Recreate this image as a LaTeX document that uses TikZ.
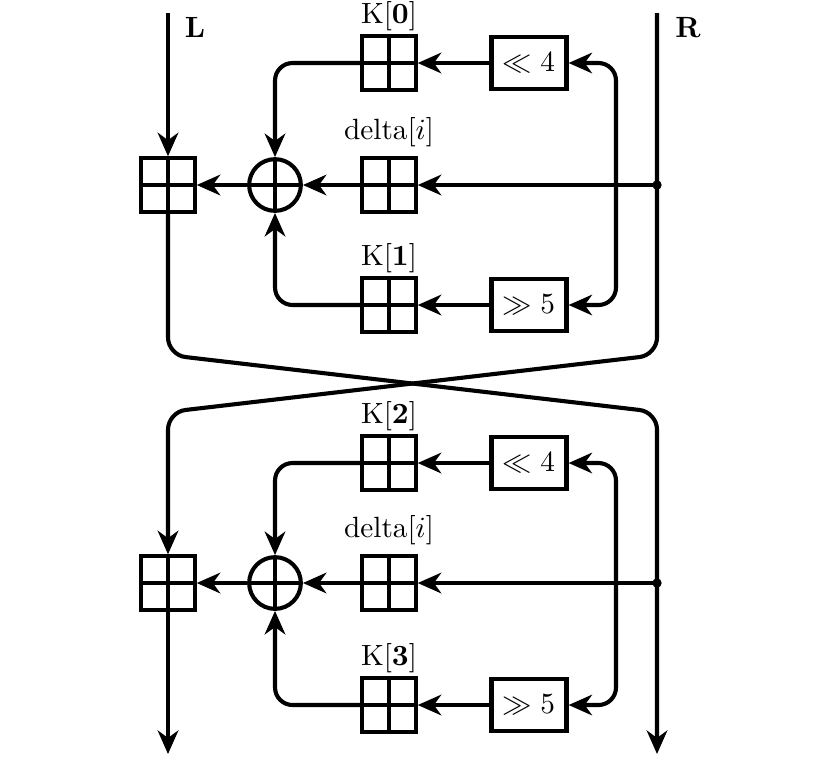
\documentclass[tikz,border=0pt]{standalone}
\usepackage{amsmath,amssymb}
\usetikzlibrary{arrows.meta, positioning}
\tikzset{
    teaadd/.style={draw, minimum size=0.64cm, inner sep=0pt, line width=1.4pt,
        path picture={\draw[line width=1.4pt] (path picture bounding box.north) -- (path picture bounding box.south)
            (path picture bounding box.west) -- (path picture bounding box.east);}},
    teaxor/.style={circle, draw, minimum size=0.62cm, inner sep=0pt, line width=1.4pt,
        path picture={\draw[line width=1.4pt] (path picture bounding box.north) -- (path picture bounding box.south)
            (path picture bounding box.west) -- (path picture bounding box.east);}},
    teashift/.style={draw, minimum width=0.9cm, minimum height=0.62cm, inner sep=0pt, line width=1.4pt},
    teaarrow/.style={-{Stealth[length=8pt, width=7pt, inset=2.5pt]}, line width=1.4pt},
    teacross/.style={line width=1.4pt, rounded corners=6pt},
    teatag/.style={inner sep=0pt}
}

\begin{document}
\begin{tikzpicture}[x=0.012cm, y=-0.012cm]
  \useasboundingbox (0,0) rectangle (840,757);
  \coordinate (Lin)  at (168,13);
  \coordinate (Rin)  at (657,13);
  \coordinate (Lout) at (168,754);
  \coordinate (Rout) at (657,754);
  \node at (195,27) {$\mathbf{L}$};
  \node at (688,27) {$\mathbf{R}$};

  \node[teaadd]   (sum1) at (168,185) {};
  \node[teaxor]   (x1)   at (275,185) {};
  \node[teaadd]   (d1)   at (389,185) {};
  \node[teaadd]   (ka1)  at (389,63)  {};
  \node[teashift] (sl1)  at (529,63)  {$\ll 4$};
  \node[teaadd]   (kb1)  at (389,305) {};
  \node[teashift] (sr1)  at (529,305) {$\gg 5$};
  \node[teatag, above=1pt of ka1] {K$[\mathbf{0}]$};
  \node[teatag, above=3pt of d1]  {delta$[i]$};
  \node[teatag, above=1pt of kb1] {K$[\mathbf{1}]$};
  \coordinate (dot1) at (657,185);
  \coordinate (tap1) at (616,185);
  \fill (dot1) circle (1.6pt);
  \draw[teaarrow] (Lin) -- (sum1);
  \draw[teaarrow] (dot1) -- (d1);
  \draw[teaarrow] (d1) -- (x1);
  \draw[teaarrow] (x1) -- (sum1);
  \draw[teaarrow] (sl1) -- (ka1);
  \draw[teaarrow] (sr1) -- (kb1);
  \draw[teaarrow, rounded corners=6pt] (ka1.west) -| (x1.north);
  \draw[teaarrow, rounded corners=6pt] (kb1.west) -| (x1.south);
  \draw[teaarrow, rounded corners=6pt] (tap1) |- (sl1.east);
  \draw[teaarrow, rounded corners=6pt] (tap1) |- (sr1.east);

  \coordinate (cl1) at (168,355);
  \coordinate (cr1) at (657,355);
  \coordinate (cl2) at (168,412);
  \coordinate (cr2) at (657,412);

  \node[teaadd]   (sum2) at (168,583) {};
  \node[teaxor]   (x2)   at (275,583) {};
  \node[teaadd]   (d2)   at (389,583) {};
  \node[teaadd]   (ka2)  at (389,463) {};
  \node[teashift] (sl2)  at (529,463) {$\ll 4$};
  \node[teaadd]   (kb2)  at (389,705) {};
  \node[teashift] (sr2)  at (529,705) {$\gg 5$};
  \node[teatag, above=1pt of ka2] {K$[\mathbf{2}]$};
  \node[teatag, above=3pt of d2]  {delta$[i]$};
  \node[teatag, above=1pt of kb2] {K$[\mathbf{3}]$};
  \coordinate (dot2) at (657,583);
  \coordinate (tap2) at (616,583);
  \fill (dot2) circle (1.6pt);
  \draw[teaarrow] (dot2) -- (d2);
  \draw[teaarrow] (d2) -- (x2);
  \draw[teaarrow] (x2) -- (sum2);
  \draw[teaarrow] (sl2) -- (ka2);
  \draw[teaarrow] (sr2) -- (kb2);
  \draw[teaarrow, rounded corners=6pt] (ka2.west) -| (x2.north);
  \draw[teaarrow, rounded corners=6pt] (kb2.west) -| (x2.south);
  \draw[teaarrow, rounded corners=6pt] (tap2) |- (sl2.east);
  \draw[teaarrow, rounded corners=6pt] (tap2) |- (sr2.east);

  \draw[teaarrow, teacross] (sum1.south) -- (cl1) -- (cr2) -- (Rout);
  \draw[teaarrow, teacross] (Rin) -- (cr1) -- (cl2) -- (sum2.north);
  \draw[teaarrow] (sum2.south) -- (Lout);
\end{tikzpicture}
\end{document}
